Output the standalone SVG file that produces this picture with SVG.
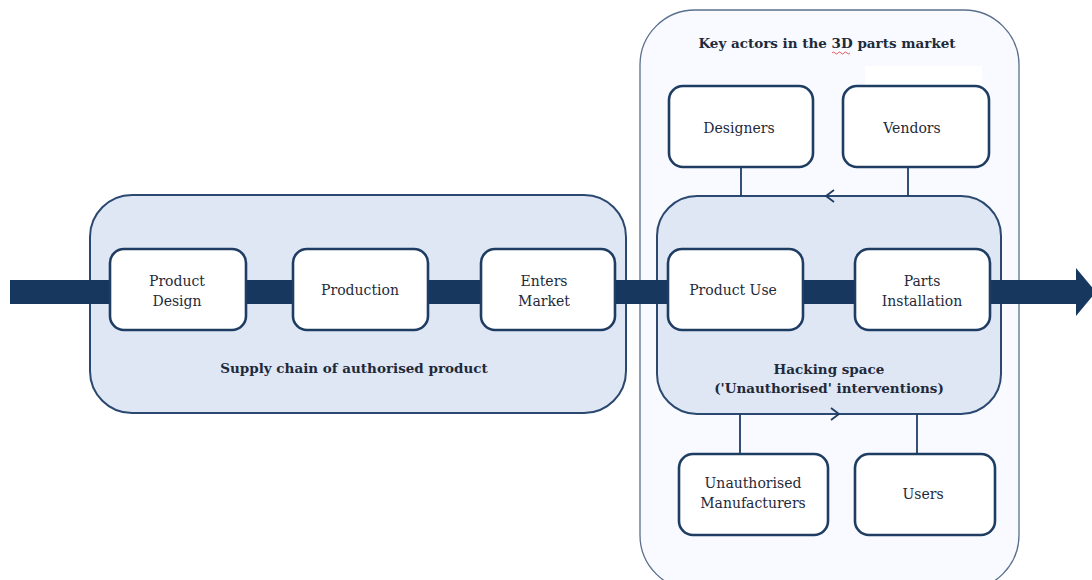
<svg xmlns="http://www.w3.org/2000/svg" width="1092" height="580" viewBox="0 0 1092 580">
<style>
.cont{fill:#dfe7f5;stroke:#2a4870;stroke-width:2}
.outer{fill:#f8faff;stroke:#5a6f8c;stroke-width:1.3}
.node{fill:#ffffff;stroke:#1f3d63;stroke-width:2.6}
.t{font-family:"DejaVu Serif","Liberation Serif",serif;font-size:14px;fill:#1e2a3a;text-anchor:middle}
.b{font-weight:bold;font-size:13.5px}
.ln{stroke:#1f3d63;stroke-width:1.8;fill:none}
.bar{fill:#17375e}
</style>
<rect width="1092" height="580" fill="#ffffff"/>
<g id="key-actors-container">
<rect class="outer" x="640" y="10" width="379" height="580" rx="55"/>
<rect x="865" y="66" width="117" height="19" fill="#ffffff"/>
<text class="t b" x="827" y="48">Key actors in the 3D parts market</text>
<path d="M832,53 q1.5,-2 3,0 t3,0 t3,0 t3,0 t3,0 t3,0" stroke="#d33" stroke-width="0.8" fill="none"/>
</g>
<g id="supply-chain">
<rect class="cont" x="90" y="195" width="536" height="218" rx="42"/>
<text class="t b" x="354" y="373">Supply chain of authorised product</text>
</g>
<g id="hacking-space">
<rect class="cont" x="657" y="196" width="344" height="218" rx="40"/>
<text class="t b" x="829" y="374">Hacking space</text>
<text class="t b" x="829" y="393">('Unauthorised' interventions)</text>
</g>
<g id="connectors">
<path class="bar" d="M10,280 H1076 V268 L1096,292 L1076,316 V304 H10 Z"/>
<line class="ln" x1="741" y1="167" x2="741" y2="196"/>
<line class="ln" x1="908" y1="167" x2="908" y2="196"/>
<line class="ln" x1="740" y1="414" x2="740" y2="454"/>
<line class="ln" x1="917" y1="414" x2="917" y2="454"/>
<path class="ln" d="M834,190 L826,196 L834,202" stroke-width="2.2"/>
<path class="ln" d="M831,408 L839,414 L831,420" stroke-width="2.2"/>
</g>
<g id="product-design">
<rect class="node" x="110" y="249" width="136" height="81" rx="14"/>
<text class="t" x="177" y="286">Product</text>
<text class="t" x="177" y="306">Design</text>
</g>
<g id="production">
<rect class="node" x="293" y="249" width="135" height="81" rx="14"/>
<text class="t" x="360" y="295">Production</text>
</g>
<g id="enters-market">
<rect class="node" x="481" y="249" width="134" height="81" rx="14"/>
<text class="t" x="544" y="286">Enters</text>
<text class="t" x="544" y="306">Market</text>
</g>
<g id="product-use">
<rect class="node" x="668" y="249" width="135" height="81" rx="14"/>
<text class="t" x="733" y="295">Product Use</text>
</g>
<g id="parts-installation">
<rect class="node" x="855" y="249" width="135" height="81" rx="14"/>
<text class="t" x="922" y="286">Parts</text>
<text class="t" x="922" y="306">Installation</text>
</g>
<g id="designers">
<rect class="node" x="669" y="86" width="144" height="81" rx="14"/>
<text class="t" x="739" y="133">Designers</text>
</g>
<g id="vendors">
<rect class="node" x="843" y="86" width="146" height="81" rx="14"/>
<text class="t" x="912" y="133">Vendors</text>
</g>
<g id="unauthorised-manufacturers">
<rect class="node" x="679" y="454" width="149" height="81" rx="14"/>
<text class="t" x="753" y="488">Unauthorised</text>
<text class="t" x="753" y="508">Manufacturers</text>
</g>
<g id="users">
<rect class="node" x="855" y="454" width="140" height="81" rx="14"/>
<text class="t" x="923" y="499">Users</text>
</g>
</svg>
